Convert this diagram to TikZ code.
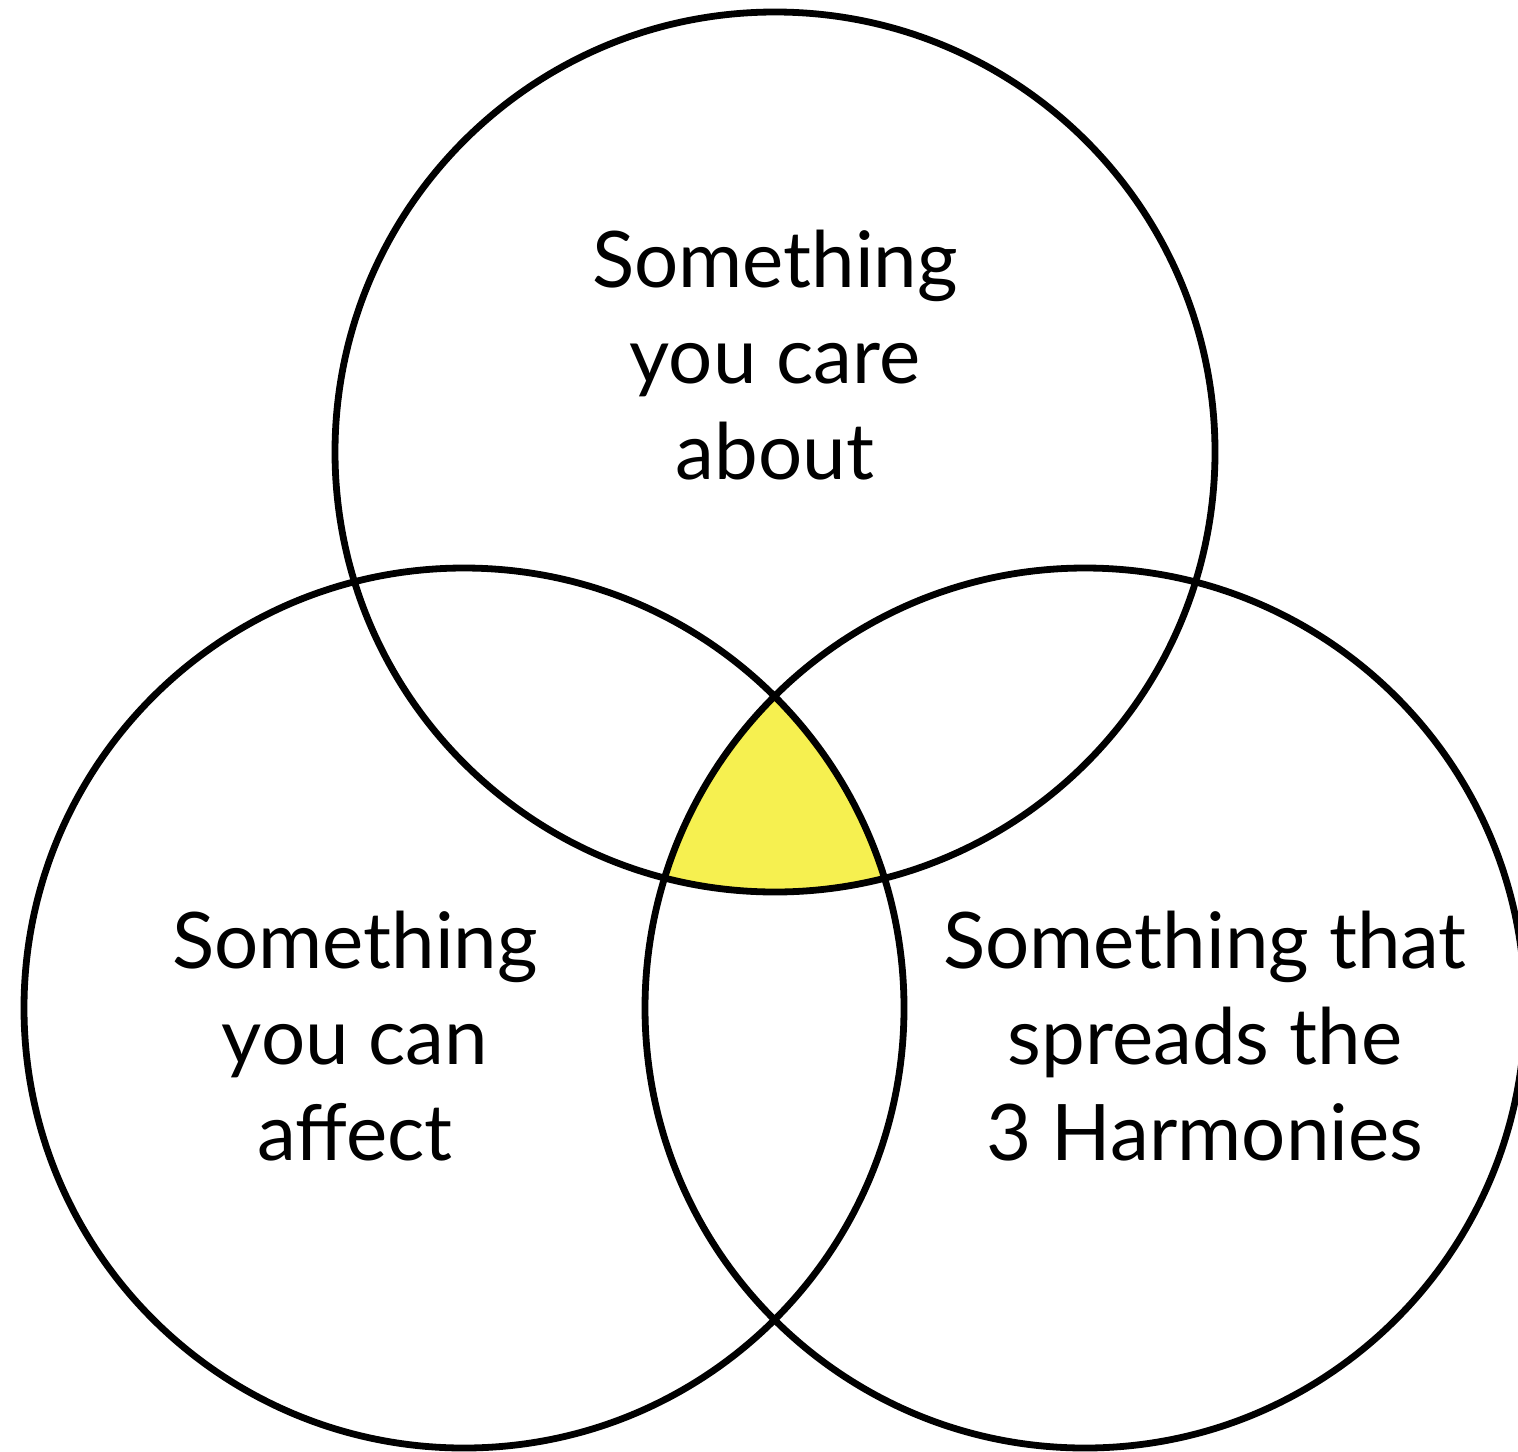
\documentclass[tikz,border=0pt]{standalone}
\usepackage{fontspec}
\setmainfont{Lato}
\definecolor{venny}{HTML}{F6F050}
\begin{document}
\begin{tikzpicture}[x=0.5pt,y=-0.5pt,
  ring/.style={draw=black,line width=3.4pt},
  lbl/.style={align=center,font=\fontsize{39}{48}\selectfont,inner sep=0pt}]
\useasboundingbox (0,0) rectangle (1518,1451);
\clip (0,0) rectangle (1518,1451);
\coordinate (ct) at (775,452);
\coordinate (cl) at (464,1008);
\coordinate (cr) at (1085,1008);
\begin{scope}
  \clip (ct) circle[radius=440];
  \clip (cl) circle[radius=440];
  \fill[venny] (cr) circle[radius=440];
\end{scope}
\draw[ring] (ct) circle[radius=440];
\draw[ring] (cl) circle[radius=440];
\draw[ring] (cr) circle[radius=440];
\node[lbl] (ttop) at (775,355) {Something\\you care\\about};
\node[lbl] (tleft) at (355,1036) {Something\\you can\\affect};
\node[lbl] (tright) at (1205,1036) {Something that\\spreads the\\3 Harmonies};
\end{tikzpicture}
\end{document}
